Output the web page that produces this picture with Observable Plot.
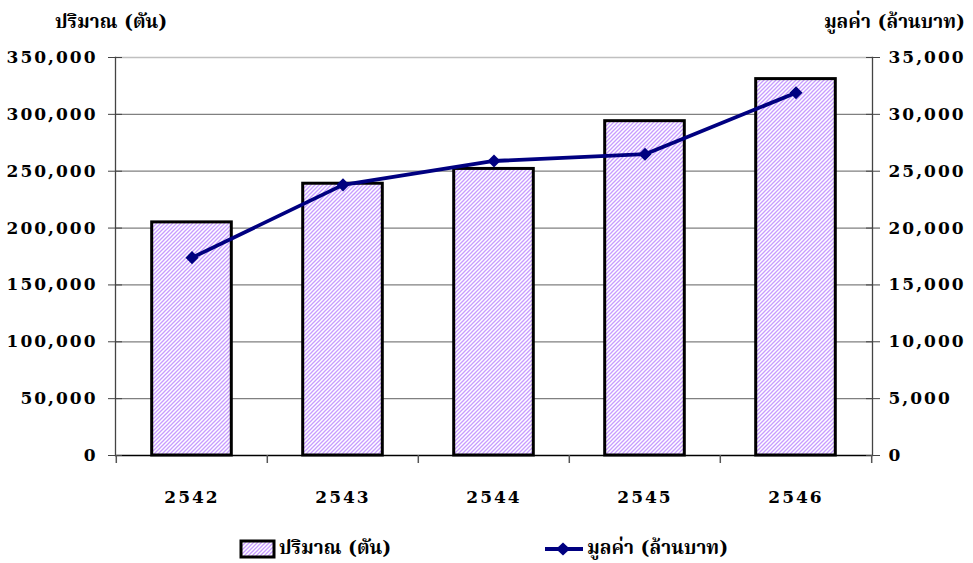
<!DOCTYPE html>
<html>
<head>
<meta charset="utf-8">
<script src="https://cdn.jsdelivr.net/npm/d3@7"></script>
<script src="https://cdn.jsdelivr.net/npm/@observablehq/plot@0.6"></script>
<style>
  body { margin: 0; background: #fff; font-family: "DejaVu Serif", "Noto Serif Thai", "Noto Sans Thai", serif; font-weight: bold; }
  #wrap { position: relative; width: 973px; height: 563px; }
  .hdr { position: absolute; top: 8px; font-size: 19px; white-space: nowrap; }
  #chart { position: absolute; top: 40px; left: 0; }
  .leg { position: absolute; top: 534px; font-size: 19px; display: flex; align-items: center; white-space: nowrap; }
</style>
</head>
<body>
<div id="wrap">
  <div class="hdr" id="tl" style="left:55px">ปริมาณ (ตัน)</div>
  <div class="hdr" id="tr" style="right:8px">มูลค่า (ล้านบาท)</div>
  <div id="chart"></div>
  <div class="leg" style="left:238px">
    <svg width="38" height="22" style="margin-right:3px"><defs><pattern id="hatchL" patternUnits="userSpaceOnUse" width="4" height="4"><rect width="4" height="4" fill="#fff"/><path d="M-1,1 l2,-2 M0,4 l4,-4 M3,5 l2,-2" stroke="#c79cff" stroke-width="1.3"/></pattern></defs><rect x="3" y="3" width="33" height="16" fill="url(#hatchL)" stroke="#000" stroke-width="3"/></svg>
    <span id="leg1">ปริมาณ (ตัน)</span>
  </div>
  <div class="leg" style="left:545px">
    <svg width="39" height="22" style="margin-right:3px"><line x1="0" y1="11" x2="38" y2="11" stroke="#000080" stroke-width="3.8"/><path d="M11,11 L18,4.5 L25,11 L18,17.5 Z" fill="#000080"/></svg>
    <span id="leg2">มูลค่า (ล้านบาท)</span>
  </div>
</div>
<script>
const years = ["2542", "2543", "2544", "2545", "2546"];
const volumeTons = [205000, 239000, 252000, 294000, 331000];
const valueMillionBaht = [17400, 23800, 25900, 26500, 31900];
const leftTicks = [0, 50000, 100000, 150000, 200000, 250000, 300000, 350000];
const rightTicks = [0, 5000, 10000, 15000, 20000, 25000, 30000, 35000];

const rows = years.map((y, i) => ({year: y, volume: volumeTons[i], value: valueMillionBaht[i]}));

const W = 973, H = 480;
const mL = 115, mR = 101, mT = 17, mB = 65;
const bw = (W - mL - mR) / years.length;
const barW = 80;
const inset = (bw - barW) / 2;
const fmt = d3.format(",");
const ratio = 10; // right axis units -> left axis units

const plot = Plot.plot({
  width: W, height: H,
  marginLeft: mL, marginRight: mR, marginTop: mT, marginBottom: mB,
  style: {fontFamily: '"DejaVu Serif", serif', fontSize: "17px", fontWeight: "bold", color: "#000", background: "#fff"},
  x: {type: "band", domain: years, padding: 0, label: null},
  y: {domain: [0, 350000], label: null},
  marks: [
    Plot.gridY(leftTicks.filter(d => d > 0 && d < 350000), {stroke: "#808080", strokeOpacity: 1, strokeWidth: 1.3}),
    Plot.gridY([350000], {stroke: "#c0c0c0", strokeOpacity: 1, strokeWidth: 1.3}),
    Plot.barY(rows, {x: "year", y: "volume", fill: "url(#hatch)", stroke: "#000", strokeWidth: 3, insetLeft: inset, insetRight: inset}),
    Plot.ruleY([0], {stroke: "#000", strokeWidth: 1.5}),
    Plot.frame({anchor: "left", stroke: "#444", strokeWidth: 1.3}),
    Plot.frame({anchor: "right", stroke: "#444", strokeWidth: 1.3}),
    Plot.axisY(leftTicks, {anchor: "left", tickSize: 7, tickPadding: 11, tickFormat: fmt, stroke: "#444", label: null}),
    Plot.axisY(rightTicks.map(d => d * ratio), {anchor: "right", tickSize: 7, tickPadding: 9, tickFormat: d => fmt(d / ratio), stroke: "#444", label: null}),
    Plot.axisY(leftTicks, {anchor: "left", tickSize: 7, dx: 7, tickFormat: () => "", stroke: "#444", label: null}),
    Plot.axisY(rightTicks.map(d => d * ratio), {anchor: "right", tickSize: 7, dx: -7, tickFormat: () => "", stroke: "#444", label: null}),
    Plot.axisX(years, {tickSize: 8, dx: -bw / 2, tickFormat: () => "", stroke: "#555", strokeWidth: 1.5, label: null}),
    Plot.axisX([years[years.length - 1]], {tickSize: 8, dx: bw / 2, tickFormat: () => "", stroke: "#555", strokeWidth: 1.5, label: null}),
    Plot.axisX(years, {tickSize: 0, tickPadding: 35, label: null}),
    Plot.line(rows, {x: "year", y: d => d.value * ratio, stroke: "#000080", strokeWidth: 3.8}),
    Plot.dot(rows, {x: "year", y: d => d.value * ratio, symbol: "square", rotate: 45, r: 5.2, fill: "#000080", stroke: "none"})
  ]
});

const svg = d3.select(plot);
const defs = svg.insert("defs", ":first-child");
const pat = defs.append("pattern").attr("id", "hatch").attr("patternUnits", "userSpaceOnUse").attr("width", 4).attr("height", 4);
pat.append("rect").attr("width", 4).attr("height", 4).attr("fill", "#fff");
pat.append("path").attr("d", "M-1,1 l2,-2 M0,4 l4,-4 M3,5 l2,-2").attr("stroke", "#c79cff").attr("stroke-width", 1.3);
svg.selectAll("[aria-label='x-axis tick label'] text, [aria-label='y-axis tick label'] text").style("letter-spacing", "2px");
document.getElementById("chart").appendChild(plot);
</script>
</body>
</html>
